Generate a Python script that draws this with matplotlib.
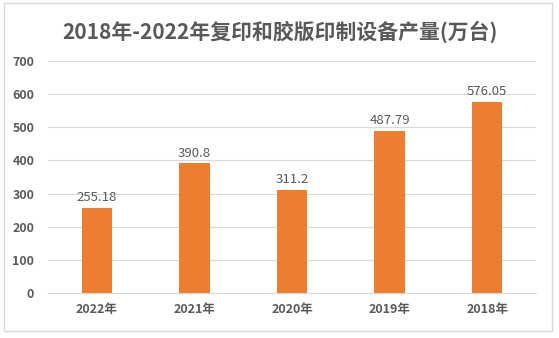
import matplotlib
matplotlib.use("Agg")
import matplotlib.pyplot as plt
from matplotlib.patches import Rectangle

plt.rcParams['font.family'] = ['Noto Sans CJK SC', 'DejaVu Sans']

# data
years = ["2022年", "2021年", "2020年", "2019年", "2018年"]
output = [255.18, 390.8, 311.2, 487.79, 576.05]
labels = ["255.18", "390.8", "311.2", "487.79", "576.05"]
yticks = [0, 100, 200, 300, 400, 500, 600, 700]

fig = plt.figure(figsize=(5.59, 3.38), dpi=100)
ax = fig.add_axes([0.0859, 0.1331, 0.873, 0.6864])

# outer chart frame
fig.patches.append(Rectangle((4 / 559, 1 - 331 / 338), 548 / 559, 328 / 338,
                             transform=fig.transFigure, fill=False,
                             edgecolor="#D9D9D9", linewidth=1))

x = range(len(years))
bars = ax.bar(x, output, width=0.31, color="#ED7D31", zorder=3)
for b, lab in zip(bars, labels):
    ax.text(b.get_x() + b.get_width() / 2, b.get_height() + 12, lab,
            ha="center", va="bottom", fontsize=9.5, color="#595959")

ax.set_xlim(-0.5, len(years) - 0.5)
ax.set_ylim(0, 700)
ax.set_yticks(yticks)
ax.set_xticks(list(x))
ax.set_xticklabels(years, fontsize=9, fontweight="bold", color="#595959")
ax.set_yticklabels([str(v) for v in yticks], fontsize=9, fontweight="bold", color="#595959")
ax.tick_params(length=0)
ax.tick_params(axis="x", pad=7)
ax.tick_params(axis="y", pad=10)

ax.grid(axis="y", color="#D9D9D9", linewidth=0.8, zorder=0)
for s in ["top", "right", "left"]:
    ax.spines[s].set_visible(False)
ax.spines["bottom"].set_color("#D9D9D9")

fig.text(0.5, 1 - 32 / 338, "2018年-2022年复印和胶版印制设备产量(万台)",
         ha="center", va="center", fontsize=15, fontweight="bold", color="#595959")

fig.savefig("out.png", dpi=100, facecolor="white")
